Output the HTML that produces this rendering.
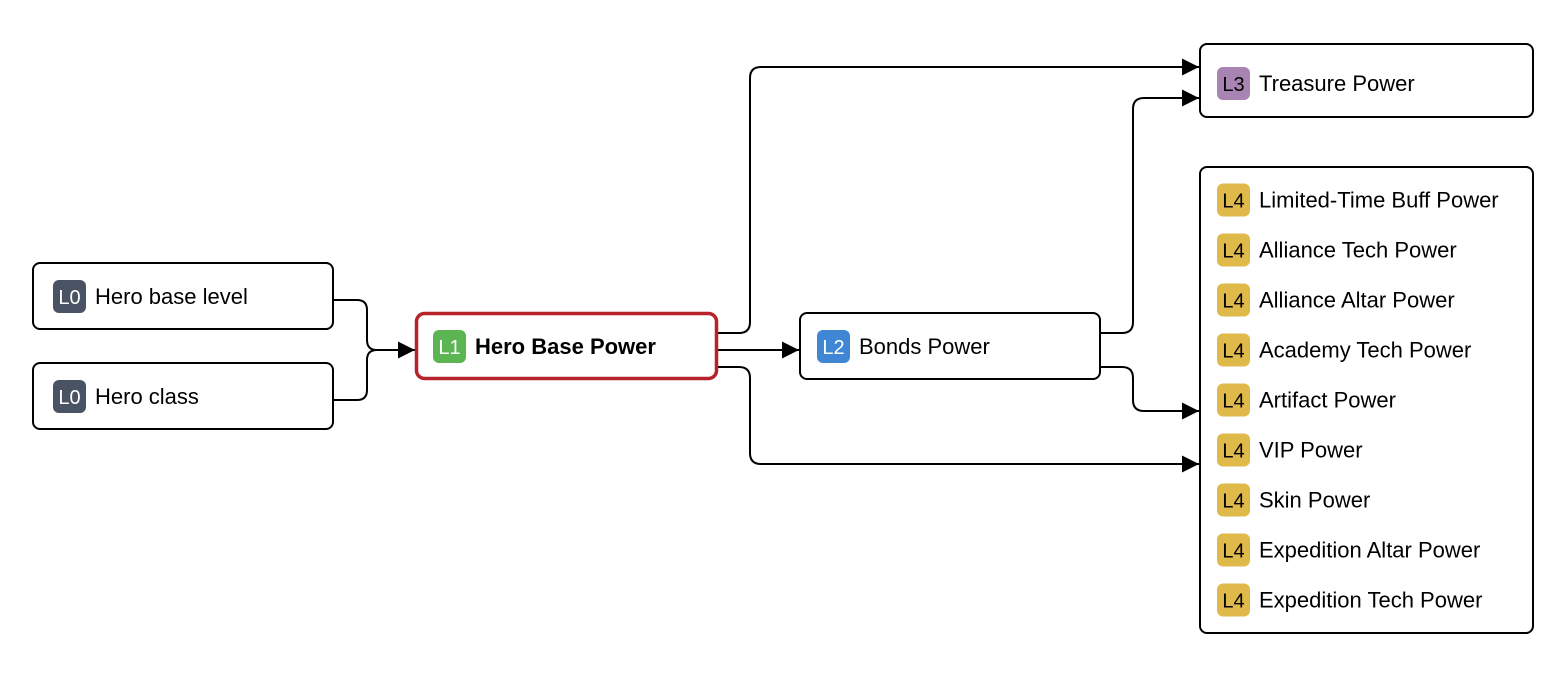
<!DOCTYPE html>
<html><head><meta charset="utf-8"><style>
html,body{margin:0;padding:0;background:#fff;}
svg{display:block;}
text{font-family:"Liberation Sans",sans-serif;}
</style></head><body>
<svg width="1567" height="684" viewBox="0 0 1567 684" xmlns="http://www.w3.org/2000/svg">
<defs>
<marker id="arr" viewBox="0 0 10 10" refX="10" refY="5" markerWidth="17" markerHeight="17" markerUnits="userSpaceOnUse" orient="auto">
<path d="M0,0 L10,5 L0,10 z" fill="#000"/>
</marker>
</defs>
<g fill="none" stroke="#000" stroke-width="2">
<path d="M333,300 H357 Q367,300 367,310 V340 Q367,350 377,350 H415" marker-end="url(#arr)"/>
<path d="M333,400 H357 Q367,400 367,390 V360 Q367,350 377,350"/>
<path d="M717,333 H739 Q750,333 750,322 V78 Q750,67 761,67 H1199" marker-end="url(#arr)"/>
<path d="M717,350 H799" marker-end="url(#arr)"/>
<path d="M717,367 H739 Q750,367 750,378 V453 Q750,464 761,464 H1199" marker-end="url(#arr)"/>
<path d="M1100,333 H1122 Q1133,333 1133,322 V109 Q1133,98 1144,98 H1199" marker-end="url(#arr)"/>
<path d="M1100,367 H1122 Q1133,367 1133,378 V400 Q1133,411 1144,411 H1199" marker-end="url(#arr)"/>
</g>

<g>
<rect x="33" y="263" width="300" height="66" rx="7" fill="#fff" stroke="#000" stroke-width="2"/>
<rect x="53" y="280" width="33" height="33" rx="6" fill="#4a5363"/>
<text x="69.5" y="304" font-size="20" fill="#fff" text-anchor="middle">L0</text>
<text x="95" y="304" font-size="22" fill="#000">Hero base level</text>
</g>
<g>
<rect x="33" y="363" width="300" height="66" rx="7" fill="#fff" stroke="#000" stroke-width="2"/>
<rect x="53" y="380" width="33" height="33" rx="6" fill="#4a5363"/>
<text x="69.5" y="404" font-size="20" fill="#fff" text-anchor="middle">L0</text>
<text x="95" y="404" font-size="22" fill="#000">Hero class</text>
</g>
<g>
<rect x="416.5" y="313.5" width="300" height="65" rx="8" fill="#fff" stroke="#b8232b" stroke-width="3.5"/>
<rect x="433" y="330" width="33" height="33" rx="6" fill="#5bb553"/>
<text x="449.5" y="354" font-size="20" fill="#fff" text-anchor="middle">L1</text>
<text x="475" y="354" font-size="22" font-weight="bold" fill="#000">Hero Base Power</text>
</g>
<g>
<rect x="800" y="313" width="300" height="66" rx="7" fill="#fff" stroke="#000" stroke-width="2"/>
<rect x="817" y="330" width="33" height="33" rx="6" fill="#3f87d5"/>
<text x="833.5" y="354" font-size="20" fill="#fff" text-anchor="middle">L2</text>
<text x="859" y="354" font-size="22" fill="#000">Bonds Power</text>
</g>
<g>
<rect x="1200" y="44" width="333" height="73" rx="7" fill="#fff" stroke="#000" stroke-width="2"/>
<rect x="1217" y="67" width="33" height="33" rx="6" fill="#a784b2"/>
<text x="1233.5" y="91" font-size="20" fill="#000" text-anchor="middle">L3</text>
<text x="1259" y="91" font-size="22" fill="#000">Treasure Power</text>
</g>
<g>
<rect x="1200" y="167" width="333" height="466" rx="7" fill="#fff" stroke="#000" stroke-width="2"/>
<g id="l4rows"></g>
</g>
</svg>
<script>
const l4Labels = ["Limited-Time Buff Power","Alliance Tech Power","Alliance Altar Power","Academy Tech Power","Artifact Power","VIP Power","Skin Power","Expedition Altar Power","Expedition Tech Power"];
const NS = "http://www.w3.org/2000/svg";
const rowsG = document.getElementById("l4rows");
l4Labels.forEach((lab, i) => {
  const cy = 200 + i * 50;
  const g = document.createElementNS(NS, "g");
  
  
  const r = document.createElementNS(NS, "rect");
  r.setAttribute("x", 1217); r.setAttribute("y", cy - 16.5);
  r.setAttribute("width", 33); r.setAttribute("height", 33);
  r.setAttribute("rx", 6); r.setAttribute("fill", "#e0b94b");
  const b = document.createElementNS(NS, "text");
  b.setAttribute("x", 1233.5); b.setAttribute("y", cy + 7.5);
  b.setAttribute("font-size", 20); b.setAttribute("text-anchor", "middle");
  b.textContent = "L4";
  const t = document.createElementNS(NS, "text");
  t.setAttribute("x", 1259); t.setAttribute("y", cy + 7.5);
  t.setAttribute("font-size", 22);
  t.textContent = lab;
  g.appendChild(r); g.appendChild(b); g.appendChild(t);
  rowsG.appendChild(g);
});
</script>
</body></html>
